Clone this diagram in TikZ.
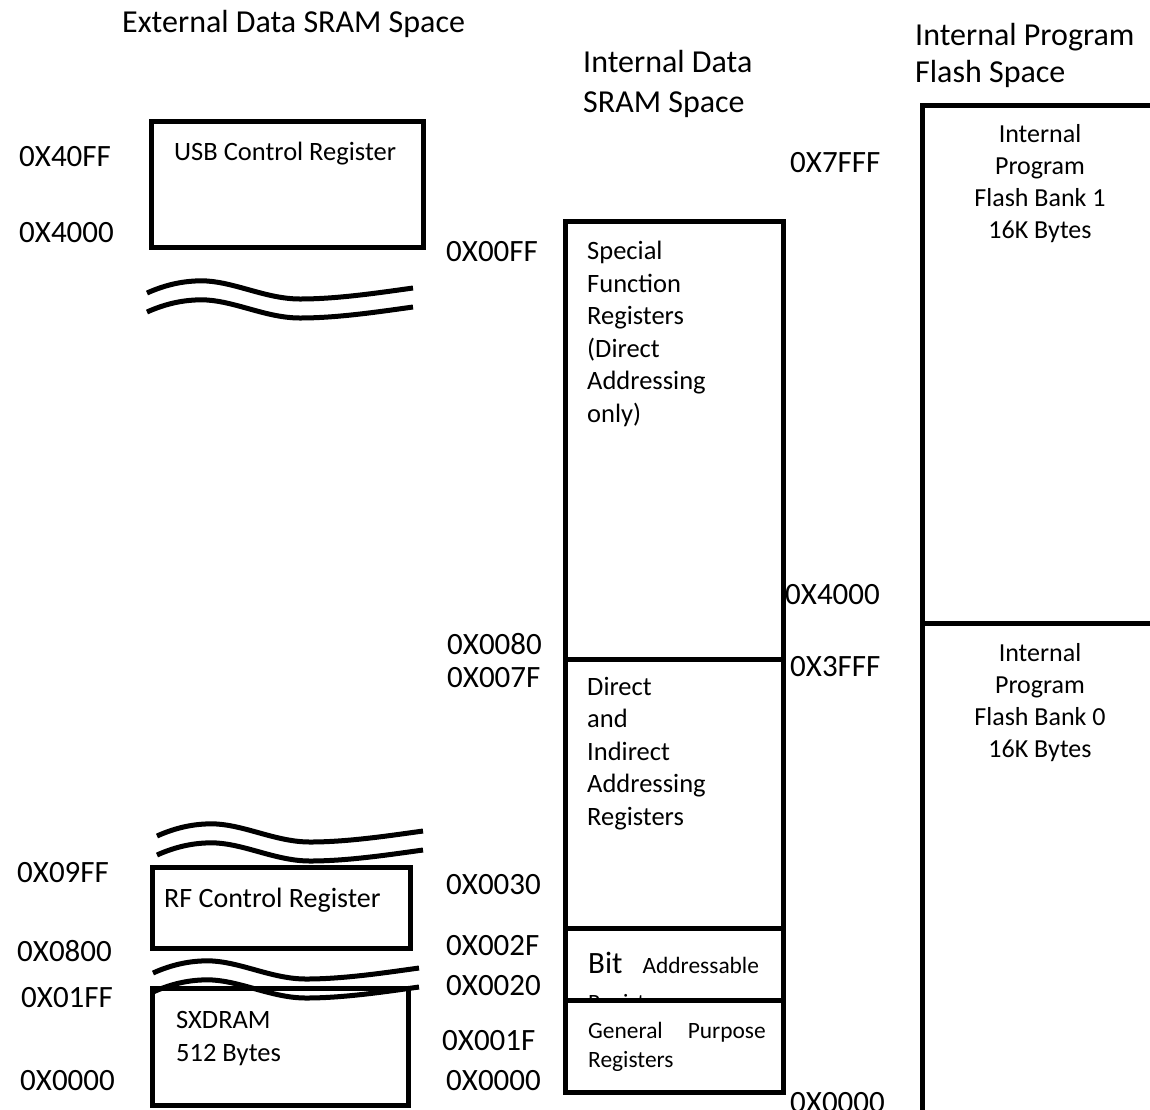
\documentclass[tikz,border=0pt]{standalone}
\usepackage{fontspec}
\setmainfont{Carlito}
\usepackage{tikz}

\begin{document}
\begin{tikzpicture}[x=1pt,y=-1pt,
  mem/.style={line width=5pt},
  wave/.style={line width=5pt},
  head/.style={anchor=base west,inner sep=0pt,align=left,font=\fontsize{32}{40}\selectfont},
  addr/.style={anchor=base west,inner sep=0pt,font=\fontsize{31}{36}\selectfont},
  boxtext/.style={anchor=base west,inner sep=0pt,align=left,font=\fontsize{26.5}{32.5}\selectfont},
  smalltext/.style={anchor=base west,inner sep=0pt,align=left,font=\fontsize{23.4}{29}\selectfont},
  banktext/.style={anchor=base,inner sep=0pt,align=center,font=\fontsize{26}{32}\selectfont}]
\useasboundingbox (0,0) rectangle (1150,1109);

% headings (base = last line)
\node[head] (ext) at (122,32) {External Data SRAM Space};
\node[head] (intdata) at (583,112) {Internal Data\\SRAM Space};
\node[head] (intprog) at (915,82) {Internal Program\\[-3pt]Flash Space};

% external data space
\draw[mem] (151,121) rectangle (423,247);
\node[boxtext] (usb) at (174,160) {USB Control Register};
\draw[mem] (152,867) rectangle (410,948);
\node[boxtext,font=\fontsize{28}{32}\selectfont] (rf) at (164,907) {RF Control Register};
\draw[mem] (152,988) rectangle (408,1105);
\node[boxtext] (sxdram) at (176,1061) {SXDRAM\\512 Bytes};

\foreach \wx/\wy in {147/293, 157/836, 153/973}
  \foreach \dy in {0,19}
    \draw[wave, shift={(\wx,\wy+\dy)}] (0,0) .. controls (20,-9) and (40,-13) .. (60,-12)
      .. controls (90,-10) and (120,6) .. (153,6) .. controls (190,6) and (230,0) .. (266,-5);

\node[addr] (a40ff) at (19,166) {0X40FF};
\node[addr] (a4000) at (19,242) {0X4000};
\node[addr] (a09ff) at (17,882) {0X09FF};
\node[addr] (a0800) at (17,961) {0X0800};
\node[addr] (a01ff) at (21,1007) {0X01FF};
\node[addr] (ax0000) at (20,1090) {0X0000};

% internal data space
\draw[mem] (565,221) rectangle (783,928);
\draw[mem] (565,659) -- (783,659);
\node[boxtext] (sfr) at (587,422) {Special\\Function\\Registers\\(Direct\\Addressing\\only)};
\node[boxtext] (dir) at (587,825) {Direct\\and\\Indirect\\Addressing\\Registers};
\draw[mem] (565,928) rectangle (783,1000);
\node[smalltext] (bit) at (588,1010) {{\fontsize{31}{36}\selectfont Bit}\hspace{20pt}Addressable\\[8pt]Registers};
\draw[mem,fill=white] (565,1000) rectangle (783,1092);
\node[smalltext] (gpr) at (588,1067) {General\hspace{25pt}Purpose\\Registers};

\node[addr] (d00ff) at (446,261) {0X00FF};
\node[addr] (d0080) at (447,654) {0X0080};
\node[addr] (d007f) at (447,687) {0X007F};
\node[addr] (d0030) at (446,894) {0X0030};
\node[addr] (d002f) at (446,955) {0X002F};
\node[addr] (d0020) at (446,995) {0X0020};
\node[addr] (d001f) at (442,1050) {0X001F};
\node[addr] (d0000) at (446,1090) {0X0000};

% internal program flash space
\draw[mem] (1155,105) -- (922,105) -- (922,1115);
\draw[mem] (922,623) -- (1155,623);
\node[banktext] (bank1) at (1040,238) {Internal\\Program\\Flash Bank 1\\16K Bytes};
\node[banktext] (bank0) at (1040,757) {Internal\\Program\\Flash Bank 0\\16K Bytes};

\node[addr] (p7fff) at (790,172) {0X7FFF};
\node[addr] (p4000) at (785,604) {0X4000};
\node[addr] (p3fff) at (790,676) {0X3FFF};
\node[addr] (p0000) at (790,1112) {0X0000};
\end{tikzpicture}
\end{document}
